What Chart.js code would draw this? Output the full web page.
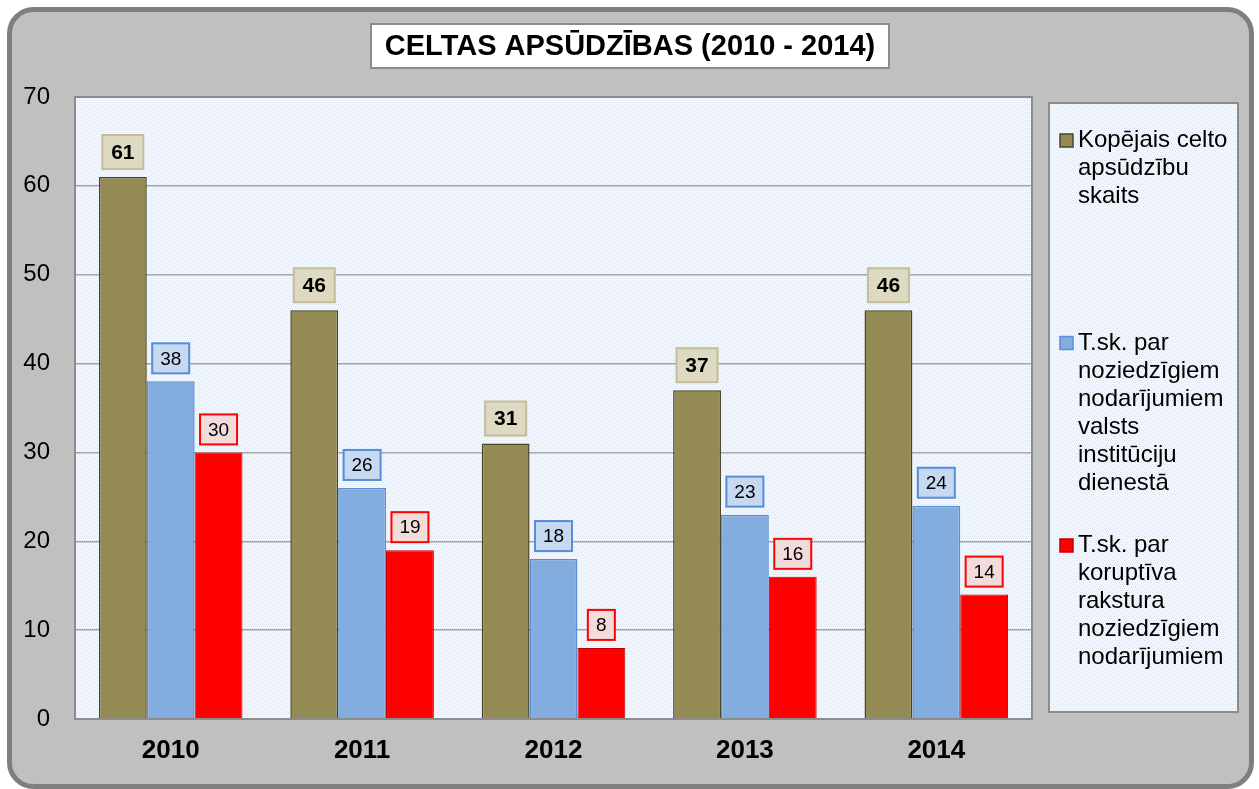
<!DOCTYPE html>
<html>
<head>
<meta charset="utf-8">
<script src="https://cdn.jsdelivr.net/npm/chart.js@4.4.0/dist/chart.umd.min.js"></script>
<style>
html,body{margin:0;padding:0;background:#ffffff;}
#wrap{width:1259px;height:789px;position:relative;}
</style>
</head>
<body>
<div id="wrap"><canvas id="c" width="1259" height="789"></canvas></div>
<script>
const years = ['2010', '2011', '2012', '2013', '2014'];
const totalCharges = [61, 46, 31, 37, 46];
const stateServiceCrimes = [38, 26, 18, 23, 24];
const corruptionCrimes = [30, 19, 8, 16, 14];
const yTicks = [0, 10, 20, 30, 40, 50, 60, 70];
const titleText = 'CELTAS APSŪDZĪBAS (2010 - 2014)';
const legendTotal = ['Kopējais celto', 'apsūdzību', 'skaits'];
const legendState = ['T.sk. par', 'noziedzīgiem', 'nodarījumiem', 'valsts', 'institūciju', 'dienestā'];
const legendCorrupt = ['T.sk. par', 'koruptīva', 'rakstura', 'noziedzīgiem', 'nodarījumiem'];

const FONT = '"Liberation Sans", Arial, sans-serif';

function makePattern(ctx) {
  const p = document.createElement('canvas');
  p.width = 4; p.height = 4;
  const g = p.getContext('2d');
  g.fillStyle = '#f7f9fd';
  g.fillRect(0, 0, 4, 4);
  g.fillStyle = '#dce6f3';
  g.fillRect(0, 0, 1, 1); g.fillRect(2, 0, 1, 1);
  g.fillRect(1, 2, 1, 1); g.fillRect(3, 2, 1, 1);
  g.fillStyle = '#e9eff8';
  g.fillRect(1, 1, 1, 1); g.fillRect(3, 3, 1, 1);
  return ctx.createPattern(p, 'repeat');
}

function roundRect(ctx, x, y, w, h, r) {
  ctx.beginPath();
  ctx.moveTo(x + r, y);
  ctx.lineTo(x + w - r, y);
  ctx.arcTo(x + w, y, x + w, y + r, r);
  ctx.lineTo(x + w, y + h - r);
  ctx.arcTo(x + w, y + h, x + w - r, y + h, r);
  ctx.lineTo(x + r, y + h);
  ctx.arcTo(x, y + h, x, y + h - r, r);
  ctx.lineTo(x, y + r);
  ctx.arcTo(x, y, x + r, y, r);
  ctx.closePath();
}

const bgPlugin = {
  id: 'bg',
  beforeDraw(chart) {
    const ctx = chart.ctx;
    const a = chart.chartArea;
    ctx.save();
    ctx.fillStyle = '#ffffff';
    ctx.fillRect(0, 0, chart.width, chart.height);
    roundRect(ctx, 9.5, 9.5, 1242, 777, 24);
    ctx.fillStyle = '#c0c0c0';
    ctx.fill();
    ctx.lineWidth = 5;
    ctx.strokeStyle = '#7f7f7f';
    ctx.stroke();
    const pat = makePattern(ctx);
    ctx.fillStyle = pat;
    ctx.fillRect(a.left, a.top, a.right - a.left, a.bottom - a.top);
    ctx.fillRect(1049, 103, 189, 609);
    ctx.lineWidth = 2;
    ctx.strokeStyle = '#8c8c8c';
    ctx.strokeRect(1049, 103, 189, 609);
    ctx.fillStyle = '#ffffff';
    ctx.fillRect(371, 24, 518, 44);
    ctx.strokeRect(371, 24, 518, 44);
    ctx.fillStyle = '#000000';
    ctx.font = 'bold 29px ' + FONT;
    ctx.textAlign = 'center';
    ctx.textBaseline = 'middle';
    ctx.fillText(titleText, 630, 47);
    ctx.restore();
  },
  afterDraw(chart) {
    const ctx = chart.ctx;
    const a = chart.chartArea;
    ctx.save();
    ctx.lineWidth = 2;
    ctx.strokeStyle = '#8c8c8c';
    ctx.strokeRect(a.left, a.top, a.right - a.left, a.bottom - a.top);
    const styles = [
      { fill: '#ddd9c3', stroke: '#c4bd97', font: 'bold 21px ' + FONT, h: 34, pad: 9 },
      { fill: '#c6d9f1', stroke: '#558ed5', font: '19px ' + FONT, h: 30, pad: 8 },
      { fill: '#f2dcdb', stroke: '#ff0000', font: '19px ' + FONT, h: 30, pad: 8 }
    ];
    chart.data.datasets.forEach((ds, i) => {
      const meta = chart.getDatasetMeta(i);
      const st = styles[i];
      meta.data.forEach((el, j) => {
        const txt = String(ds.data[j]);
        ctx.font = st.font;
        const w = Math.round(ctx.measureText(txt).width + st.pad * 2);
        const bottom = el.y - 8;
        const x = el.x - w / 2;
        const y = bottom - st.h;
        ctx.fillStyle = st.fill;
        ctx.fillRect(x, y, w, st.h);
        ctx.lineWidth = 2;
        ctx.strokeStyle = st.stroke;
        ctx.strokeRect(x, y, w, st.h);
        ctx.fillStyle = '#000000';
        ctx.textAlign = 'center';
        ctx.textBaseline = 'middle';
        ctx.fillText(txt, el.x, y + st.h / 2 + 1);
      });
    });
    const items = [legendTotal, legendState, legendCorrupt];
    ctx.font = '24px ' + FONT;
    ctx.textAlign = 'left';
    ctx.textBaseline = 'alphabetic';
    items.forEach((lines, i) => {
      const ds = chart.data.datasets[i];
      const base = 147 + i * 202.5;
      ctx.fillStyle = ds.backgroundColor;
      ctx.fillRect(1060, base - 13, 13, 13);
      ctx.lineWidth = 1.5;
      ctx.strokeStyle = ds.borderColor;
      ctx.strokeRect(1060, base - 13, 13, 13);
      ctx.fillStyle = '#000000';
      lines.forEach((ln, k) => {
        ctx.fillText(ln, 1078, base + k * 28);
      });
    });
    ctx.restore();
  }
};

new Chart(document.getElementById('c'), {
  type: 'bar',
  data: {
    labels: years,
    datasets: [
      { label: legendTotal.join(' '), data: totalCharges, backgroundColor: '#948a54', borderColor: '#4a4529', borderWidth: 1.5 },
      { label: legendState.join(' '), data: stateServiceCrimes, backgroundColor: '#83acdf', borderColor: '#5b8fd3', borderWidth: 1.5 },
      { label: legendCorrupt.join(' '), data: corruptionCrimes, backgroundColor: '#ff0000', borderColor: '#c00000', borderWidth: 1 }
    ]
  },
  options: {
    responsive: false,
    animation: false,
    devicePixelRatio: 1,
    layout: { padding: { left: 0, top: 97, right: 227, bottom: 0 } },
    datasets: { bar: { categoryPercentage: 0.75, barPercentage: 1.0 } },
    plugins: { legend: { display: false }, title: { display: false }, tooltip: { enabled: false } },
    scales: {
      x: {
        grid: { display: false, drawTicks: false },
        border: { display: false },
        ticks: { color: '#000000', font: { family: FONT, size: 26, weight: 'bold' }, padding: 16, maxRotation: 0 },
        afterFit(s) { s.height = 70; }
      },
      y: {
        min: 0, max: 70,
        afterBuildTicks(s) { s.ticks = yTicks.map(v => ({ value: v })); },
        grid: { color: '#a6a6a6', lineWidth: 1.5, drawTicks: false },
        border: { display: false },
        ticks: { color: '#000000', font: { family: FONT, size: 24 }, padding: 25 },
        afterFit(s) { s.width = 75; }
      }
    }
  },
  plugins: [bgPlugin]
});
</script>
</body>
</html>
